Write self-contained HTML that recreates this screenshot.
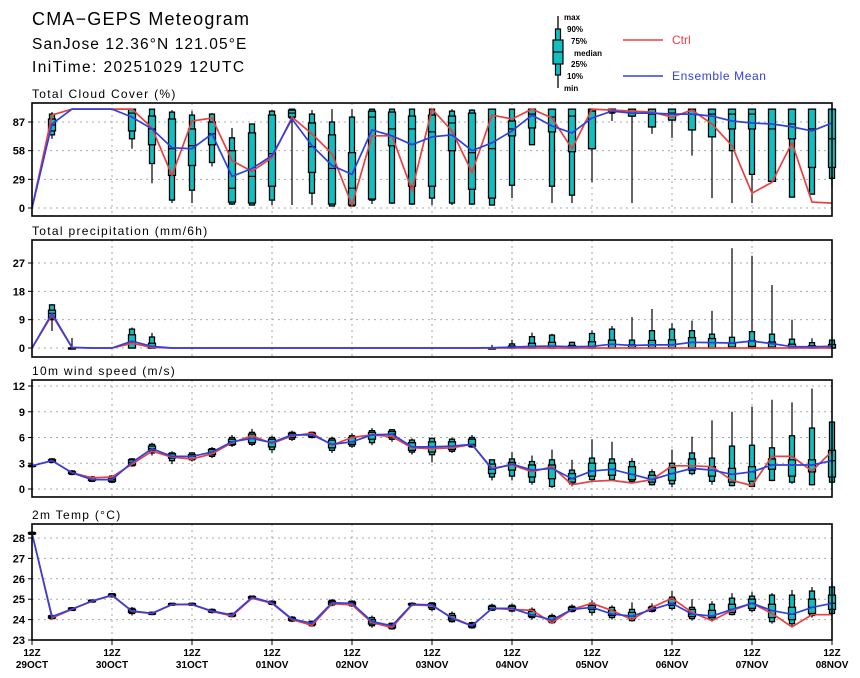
<!DOCTYPE html>
<html><head><meta charset="utf-8">
<style>
html,body{margin:0;padding:0;background:#fff;}
svg{display:block;font-family:"Liberation Sans",sans-serif;}
.tk{font-size:11px;font-weight:bold;text-anchor:end;}
.pt{font-size:12px;letter-spacing:1.3px;}
.xl{font-size:10px;font-weight:bold;text-anchor:middle;}
.lg{font-size:8px;font-weight:bold;}
</style></head>
<body>
<svg id="chart" width="860" height="678" viewBox="0 0 860 678" xmlns="http://www.w3.org/2000/svg">
<text x="32" y="25" font-size="18" letter-spacing="1.2">CMA−GEPS Meteogram</text>
<text x="32" y="49" font-size="15.5" letter-spacing="1.1">SanJose 12.36°N 121.05°E</text>
<text x="32" y="72" font-size="15.5" letter-spacing="1.4">IniTime: 20251029 12UTC</text>
<g>
<line x1="558" y1="16" x2="558" y2="88" stroke="#000" stroke-width="1.3"/>
<rect x="555.5" y="29" width="5" height="46" fill="#10c0c0" stroke="#000" stroke-width="1.2"/>
<rect x="553" y="40" width="10" height="24" fill="#10c0c0" stroke="#000" stroke-width="1.2"/>
<line x1="553" y1="52" x2="563" y2="52" stroke="#000" stroke-width="1.2"/>
<text class="lg" x="564" y="20">max</text>
<text class="lg" x="567" y="32">90%</text>
<text class="lg" x="571" y="44">75%</text>
<text class="lg" x="574" y="56">median</text>
<text class="lg" x="571" y="67">25%</text>
<text class="lg" x="567" y="79">10%</text>
<text class="lg" x="564" y="91">min</text>
<line x1="623" y1="40" x2="663" y2="40" stroke="#e84040" stroke-width="1.5"/>
<text x="672" y="44" font-size="12" fill="#e84040">Ctrl</text>
<line x1="623" y1="76" x2="663" y2="76" stroke="#3040e0" stroke-width="1.5"/>
<text x="672" y="80" font-size="12" fill="#3040e0" letter-spacing="0.6">Ensemble Mean</text>
</g>
</svg>
<script>
// ---- x axis ----
const xTickLabels = ["29OCT","30OCT","31OCT","01NOV","02NOV","03NOV","04NOV","05NOV","06NOV","07NOV","08NOV"];
// ---- Cloud cover ----
const cloudMean=[0,85,100,100,100,92,80,61,60,75,32,40,53,90,63,43,34,79,73,64,72,74,58,66,78,94,83,76,91,98,96,96,95,95,93,88,86,85,82,78,86];
const cloudCtrl=[0,94,100,100,100,100,81,33,88,91,48,37,51,92,75,55,3,73,73,18,100,78,36,94,90,100,91,60,100,99,98,97,92,99,85,63,15,26,66,6,5];
const cloudMin=[0,70,100,100,100,60,25,5,5,42,3,3,3,3,3,2,2,4,4,3,3,3,3,3,10,64,5,5,26,88,5,75,71,53,10,5,5,27,11,14,20];
const cloudP10=[0,74,100,100,100,70,45,8,18,46,4,3,8,91,15,2,2,8,5,4,10,5,4,3,23,64,22,13,60,96,93,82,89,79,72,58,34,27,11,14,30];
const cloudP25=[0,78,100,100,100,78,64,33,43,64,6,5,22,92,36,4,3,9,63,22,22,58,19,10,73,81,77,57,60,97,93,82,89,79,72,80,80,27,70,41,41];
const cloudMed=[0,84,100,100,100,96,80,60,63,75,20,32,55,96,62,40,20,92,80,80,77,86,56,60,80,95,92,93,98,99,98,95,96,95,95,95,95,80,85,80,70];
const cloudP75=[0,90,100,100,100,100,93,90,80,87,58,76,94,99,86,74,56,98,97,93,94,93,96,100,88,100,100,100,100,100,100,100,100,100,100,100,100,100,100,100,100];
const cloudP90=[0,95,100,100,100,100,100,97,94,95,71,85,98,100,95,87,92,100,100,100,100,98,99,100,100,100,100,100,100,100,100,100,100,100,100,100,100,100,100,100,100];
const cloudMax=[0,97,100,100,100,100,100,99,98,96,81,85,99,100,99,100,100,100,100,100,100,100,100,100,100,100,100,100,100,100,100,100,100,100,100,100,100,100,100,100,100];
const cloudTicks=[0,29,58,87];
// ---- Precipitation ----
const precMean=[0,11,0.2,0,0,2.2,0.5,0,0,0,0,0,0,0,0,0,0,0,0,0,0,0,0,0.1,0.3,0.5,0.6,0.4,0.5,1.2,0.8,1.0,1.0,1.8,1.7,1.6,2.2,1.4,0.4,0.4,0.5];
const precCtrl=[0,10.5,0.1,0,0,1.5,0.2,0,0,0,0,0,0,0,0,0,0,0,0,0,0,0,0,0,0,0,0,0,0,0,0,0,0,0,0,0,0,0,0,0,0];
const precMin=[0,5.4,0,0,0,0,0,0,0,0,0,0,0,0,0,0,0,0,0,0,0,0,0,0,0,0,0,0,0,0,0,0,0,0,0,0,0,0,0,0,0];
const precP10=[0,9,0,0,0,0,0,0,0,0,0,0,0,0,0,0,0,0,0,0,0,0,0,0,0,0,0,0,0,0,0,0,0,0,0,0,0,0,0,0,0];
const precP25=[0,9.5,0,0,0,0,0,0,0,0,0,0,0,0,0,0,0,0,0,0,0,0,0,0,0,0,0,0,0,0,0,0,0,0,0,0,0,0,0,0,0];
const precMed=[0,11,0,0,0,2,0.3,0,0,0,0,0,0,0,0,0,0,0,0,0,0,0,0,0,0,0,0,0,0,0,0,0,0,0,0,0.3,0.5,0.3,0,0,0];
const precP75=[0,12,0,0,0,4.2,1.5,0,0,0,0,0,0,0,0,0,0,0,0,0,0,0,0,0,0.6,1.5,1.8,0.8,2,2.5,1.0,2.4,2.6,3.3,3.0,1.5,2.3,1.9,1.2,0.7,1.1];
const precP90=[0,13.7,0,0,0,6,3.5,0,0,0,0,0,0,0,0,0,0,0,0,0,0,0,0,0,1.3,3.6,4.1,1.8,4.6,6.0,2.5,5.5,6.0,5.5,4.4,3.4,5.2,4.4,2.8,1.7,2.5];
const precMax=[0,14,3.2,0,0,6.5,4.8,0,0,0,0,0,0,0,0,0,0,0,0,0,0,0,0,1,2.6,4.9,4.5,2.0,5.6,7,9.8,12.4,7.9,8.7,11.8,31.7,29.3,20,9,3.1,2.5];
const precTicks=[0,9,18,27];
// ---- Wind ----
const windMean=[2.7,3.3,1.9,1.1,1.1,3.1,4.7,3.8,3.8,4.3,5.5,5.9,5.4,6.3,6.3,5.2,5.5,6.3,6.4,4.9,4.9,5.0,5.2,2.3,2.9,2.2,2.4,1.2,2.1,2.3,1.7,1.1,1.8,2.4,2.2,1.7,2.0,2.8,2.8,2.8,3.3];
const windCtrl=[2.7,3.3,1.9,1.3,1.4,2.9,4.4,3.7,3.5,4.1,5.4,6.2,5.3,6.2,6.5,5.1,6.0,6.3,6.1,4.8,4.7,4.8,5.2,2.4,2.8,2.0,2.6,0.5,0.9,1.0,0.7,1.1,2.7,2.7,2.6,1.0,0.4,3.8,3.8,2.1,4.4];
const windMin=[2.6,3.0,1.6,0.8,0.7,2.6,3.9,2.9,3.2,3.6,4.9,5.0,4.2,5.6,5.9,4.2,4.8,5.1,5.5,4.0,3.1,4.2,4.8,1.0,1.0,0.5,0.1,0.3,1.0,1.0,0.7,0.4,0.2,1.6,0.5,0.3,0.2,0.9,0.6,0.4,0.6];
const windP10=[2.6,3.1,1.7,0.9,0.8,2.7,4.2,3.3,3.4,3.8,5.1,5.2,4.6,5.8,6.0,4.5,5.0,5.4,5.8,4.3,4.0,4.4,4.9,1.4,1.5,0.8,0.3,0.6,1.1,1.1,0.9,0.5,0.6,1.8,0.9,0.4,0.3,1.0,0.8,0.5,0.8];
const windP25=[2.65,3.2,1.8,1.0,0.9,2.8,4.5,3.6,3.5,4.0,5.2,5.4,4.9,6.0,6.1,4.8,5.2,5.8,6.0,4.5,4.3,4.6,5.0,1.8,2.2,1.4,1.2,0.8,1.5,1.6,1.1,0.8,1.0,2.2,1.5,0.8,0.9,2.3,1.5,2.0,1.4];
const windP75=[2.75,3.4,2.0,1.3,1.3,3.4,5.0,4.1,4.0,4.6,5.8,6.4,5.8,6.5,6.5,5.7,6.0,6.6,6.7,5.4,5.5,5.5,5.8,2.9,3.1,2.8,2.8,1.8,3.0,3.0,2.6,1.6,2.5,3.5,2.6,2.4,2.6,3.5,3.4,3.4,4.5];
const windP90=[2.8,3.5,2.1,1.4,1.5,3.5,5.2,4.2,4.2,4.7,6.0,6.6,6.0,6.6,6.6,5.9,6.2,6.8,6.9,5.7,5.9,5.8,6.0,3.4,3.5,3.2,3.4,2.2,3.6,3.5,3.2,2.0,3.0,4.2,3.6,5.0,5.1,4.8,6.2,7.1,7.8];
const windMax=[2.8,3.6,2.2,1.5,1.6,3.6,5.4,4.4,4.3,4.9,6.3,7.0,6.2,6.8,6.7,6.1,6.5,7.1,7.0,5.9,6.0,6.0,6.3,3.4,4.3,3.9,4.6,3.4,5.8,5.5,3.6,2.3,4.6,6.1,8.0,9.0,9.6,10.4,10.1,11.7,7.8];
const windTicks=[0,3,6,9,12];
// ---- Temperature ----
const tempMean=[28.23,24.14,24.52,24.91,25.2,24.42,24.31,24.75,24.75,24.42,24.23,25.09,24.83,24.03,23.82,24.83,24.8,23.9,23.7,24.75,24.72,24.06,23.69,24.55,24.55,24.23,23.98,24.5,24.6,24.27,24.17,24.5,24.8,24.27,24.17,24.5,24.8,24.44,24.26,24.6,24.8];
const tempCtrl=[28.23,24.08,24.5,24.9,25.18,24.4,24.3,24.73,24.73,24.4,24.18,25.05,24.8,24.0,23.72,24.78,24.72,23.85,23.62,24.72,24.68,24.1,23.7,24.55,24.5,24.45,23.85,24.5,24.8,24.44,24.0,24.6,25.05,24.35,23.95,24.45,24.8,24.3,23.64,24.24,24.24];
const tempMin=[28.15,24.0,24.42,24.83,25.08,24.2,24.22,24.68,24.68,24.3,24.1,24.98,24.7,23.88,23.65,24.65,24.62,23.6,23.5,24.65,24.4,23.85,23.55,24.42,24.35,24.0,23.78,24.35,24.2,24.0,23.9,24.35,24.45,23.95,23.9,24.2,24.35,23.8,23.65,24.1,24.2];
const tempP10=[28.18,24.05,24.45,24.86,25.12,24.3,24.25,24.7,24.7,24.35,24.15,25.02,24.75,23.93,23.7,24.72,24.68,23.7,23.55,24.7,24.5,23.9,23.6,24.46,24.42,24.1,23.85,24.4,24.35,24.1,23.95,24.4,24.55,24.05,24.0,24.25,24.45,23.9,23.8,24.2,24.3];
const tempP25=[28.2,24.08,24.48,24.88,25.15,24.35,24.28,24.72,24.72,24.38,24.18,25.05,24.78,23.97,23.75,24.75,24.72,23.78,23.6,24.72,24.58,23.98,23.65,24.5,24.48,24.15,23.9,24.45,24.5,24.2,24.05,24.45,24.7,24.15,24.1,24.35,24.55,24.1,24.0,24.3,24.5];
const tempP75=[28.26,24.18,24.56,24.94,25.24,24.5,24.34,24.78,24.78,24.46,24.28,25.12,24.88,24.08,23.88,24.9,24.86,24.0,23.78,24.78,24.78,24.2,23.8,24.65,24.65,24.4,24.15,24.6,24.7,24.45,24.35,24.6,25.0,24.5,24.45,24.75,25.0,24.75,24.6,25.0,25.2];
const tempP90=[28.28,24.2,24.58,24.96,25.27,24.55,24.36,24.8,24.8,24.5,24.3,25.15,24.9,24.12,23.92,24.95,24.9,24.1,23.82,24.8,24.82,24.3,23.85,24.7,24.7,24.5,24.2,24.65,24.8,24.6,24.5,24.65,25.1,24.6,24.75,25.05,25.15,25.2,25.2,25.4,25.6];
const tempMax=[28.3,24.25,24.62,24.98,25.3,24.62,24.4,24.82,24.82,24.55,24.35,25.18,24.95,24.18,23.95,25.0,24.95,24.2,23.85,24.85,24.85,24.4,23.9,24.78,24.78,24.6,24.3,24.75,24.95,24.7,24.85,24.8,25.4,25.0,24.9,25.3,25.35,25.3,25.45,25.6,25.85];
const tempTicks=[23,24,25,26,27,28];

const NS="http://www.w3.org/2000/svg";
const svg=document.getElementById('chart');
const X0=32, X1=832, nSteps=40;
function xScale(i){return X0+(X1-X0)*i/nSteps;}
function mk(tag,attrs,parent){const e=document.createElementNS(NS,tag);for(const k in attrs)e.setAttribute(k,attrs[k]);(parent||svg).appendChild(e);return e;}

const panels=[
 {name:'cloud-cover',title:'Total Cloud Cover (%)',top:103,bot:216,v0:0,y0:208,v1:87,y1:122,ticks:cloudTicks,
  mean:cloudMean,ctrl:cloudCtrl,mn:cloudMin,p10:cloudP10,p25:cloudP25,med:cloudMed,p75:cloudP75,p90:cloudP90,mx:cloudMax},
 {name:'precipitation',title:'Total precipitation (mm/6h)',top:240,bot:357,v0:0,y0:348,v1:27,y1:263,ticks:precTicks,
  mean:precMean,ctrl:precCtrl,mn:precMin,p10:precP10,p25:precP25,med:precMed,p75:precP75,p90:precP90,mx:precMax},
 {name:'wind-speed',title:'10m wind speed (m/s)',top:380,bot:497,v0:0,y0:489,v1:12,y1:386,ticks:windTicks,
  mean:windMean,ctrl:windCtrl,mn:windMin,p10:windP10,p25:windP25,med:windMean,p75:windP75,p90:windP90,mx:windMax},
 {name:'temperature',title:'2m Temp (°C)',top:524,bot:640,v0:23,y0:640,v1:28,y1:538,ticks:tempTicks,
  mean:tempMean,ctrl:tempCtrl,mn:tempMin,p10:tempP10,p25:tempP25,med:tempMean,p75:tempP75,p90:tempP90,mx:tempMax}
];

panels.forEach(p=>{
  const ys=v=>p.y0+(v-p.v0)*(p.y1-p.y0)/(p.v1-p.v0);
  const g=mk('g',{});
  
  
  const t=mk('text',{x:32,y:p.top-5,class:'pt'},g);
  t.textContent=p.title;
  
  
  for(let d=1;d<10;d++){const x=xScale(d*4);mk('line',{x1:x,y1:p.top,x2:x,y2:p.bot,stroke:'#aaa','stroke-dasharray':'2,4'},g);}
  p.ticks.forEach(v=>{
    const y=ys(v);
    mk('line',{x1:X0,y1:y,x2:X1,y2:y,stroke:'#aaa','stroke-dasharray':'2,4'},g);
    mk('line',{x1:X0-4,y1:y,x2:X0,y2:y,stroke:'#000'},g);
    const tl=mk('text',{x:X0-7,y:y+4,class:'tk'},g);
    tl.textContent=String(v);
    
    
  });
  for(let i=0;i<=nSteps;i++){
    if(p.mx[i]-p.mn[i]<=0.001 && p.p75[i]-p.p25[i]<=0.001) continue;
    const x=xScale(i);
    const bg=mk('g',{},g);
    
    
    mk('line',{x1:x,y1:ys(p.mx[i]),x2:x,y2:ys(p.mn[i]),stroke:'#000','stroke-width':1.2},bg);
    const a=ys(p.p90[i]),b=ys(p.p10[i]);
    mk('rect',{x:x-2.5,y:a,width:5,height:Math.max(b-a,1),fill:'#10c0c0',stroke:'#000','stroke-width':1.3},bg);
    const c=ys(p.p75[i]),d=ys(p.p25[i]);
    mk('rect',{x:x-3.5,y:c,width:7,height:Math.max(d-c,1),fill:'#10c0c0',stroke:'#000','stroke-width':1.3},bg);
    const m=ys(p.med[i]);
    mk('line',{x1:x-3.5,y1:m,x2:x+3.5,y2:m,stroke:'#000','stroke-width':1.2},bg);
  }
  const path=arr=>arr.map((v,i)=>(i?'L':'M')+xScale(i).toFixed(1)+','+ys(v).toFixed(1)).join('');
  const lc=mk('path',{d:path(p.ctrl),fill:'none',stroke:'#e84040','stroke-width':1.7},g);
  
  
  const lm=mk('path',{d:path(p.mean),fill:'none',stroke:'#3040e0','stroke-width':1.7},g);
  
  
  const fr=mk('rect',{x:X0,y:p.top,width:X1-X0,height:p.bot-p.top,fill:'none',stroke:'#000','stroke-width':1.6},g);
  
  
});
xTickLabels.forEach((lab,d)=>{
  const x=xScale(d*4);
  mk('line',{x1:x,y1:640,x2:x,y2:645,stroke:'#000'});
  const t1=mk('text',{x:x,y:656,class:'xl'});
  t1.textContent='12Z';
  
  
  const t2=mk('text',{x:x,y:668,class:'xl'});
  t2.textContent=lab;
  
  
});
</script>
</body></html>
